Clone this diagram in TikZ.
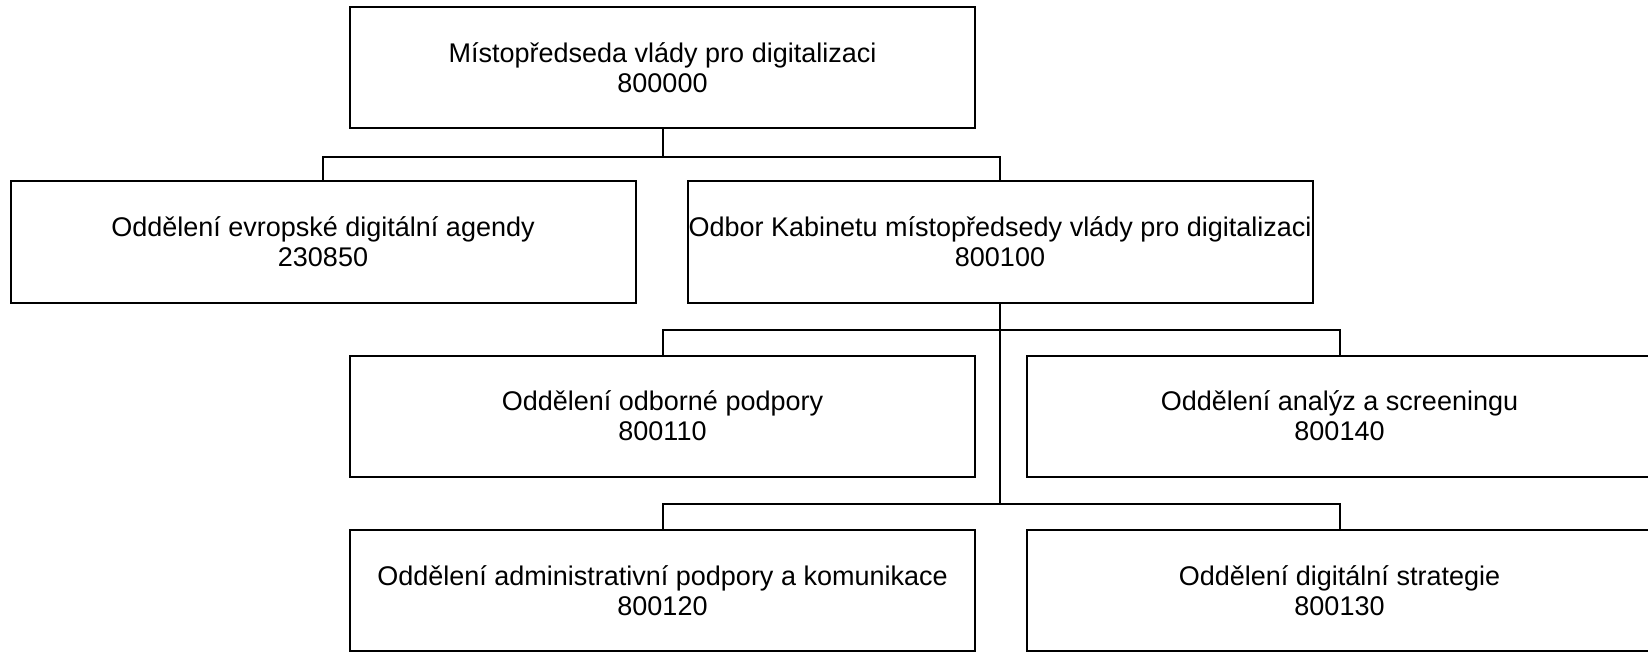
\documentclass[tikz,border=0pt]{standalone}
\usepackage{fontspec}
\setmainfont{Liberation Sans}
\usepackage{tikz}
\usetikzlibrary{positioning}

\begin{document}
\begin{tikzpicture}
    [x=0.5pt,y=-0.5pt,line width=1pt,
     unit/.style={rectangle,draw=black,minimum width=312.5pt,minimum height=60.5pt,
       inner sep=0pt,align=center,font=\fontsize{13.5pt}{15pt}\selectfont}]

    \useasboundingbox (0,0) rectangle (1648,652);

    \node[unit] (vicepremier) at (662.5,68) {Místopředseda vlády pro digitalizaci\\800000};

    \node[unit] (evropska) at (323,242) {Oddělení evropské digitální agendy\\230850};
    \node[unit] (kabinet) at (1000,242) {Odbor Kabinetu místopředsedy vlády pro digitalizaci\\800100};

    \node[unit] (odborna) at (662.5,416) {Oddělení odborné podpory\\800110};
    \node[unit] (analyzy) at (1339.5,416) {Oddělení analýz a screeningu\\800140};

    \node[unit] (administrativa) at (662.5,590.5) {Oddělení administrativní podpory a komunikace\\800120};
    \node[unit] (strategie) at (1339.5,590.5) {Oddělení digitální strategie\\800130};

    % vicepremier -> row 2
    \draw (vicepremier.south) -- ++(0,27.5) -| (evropska.north);
    \draw (vicepremier.south) -- ++(0,27.5) -| (kabinet.north);

    % kabinet -> departments
    \draw (kabinet.south) -- ++(0,26) -| (odborna.north);
    \draw (kabinet.south) -- ++(0,26) -| (analyzy.north);
    \draw (kabinet.south) -- ++(0,200.5) -| (administrativa.north);
    \draw (kabinet.south) -- ++(0,200.5) -| (strategie.north);
\end{tikzpicture}
\end{document}
